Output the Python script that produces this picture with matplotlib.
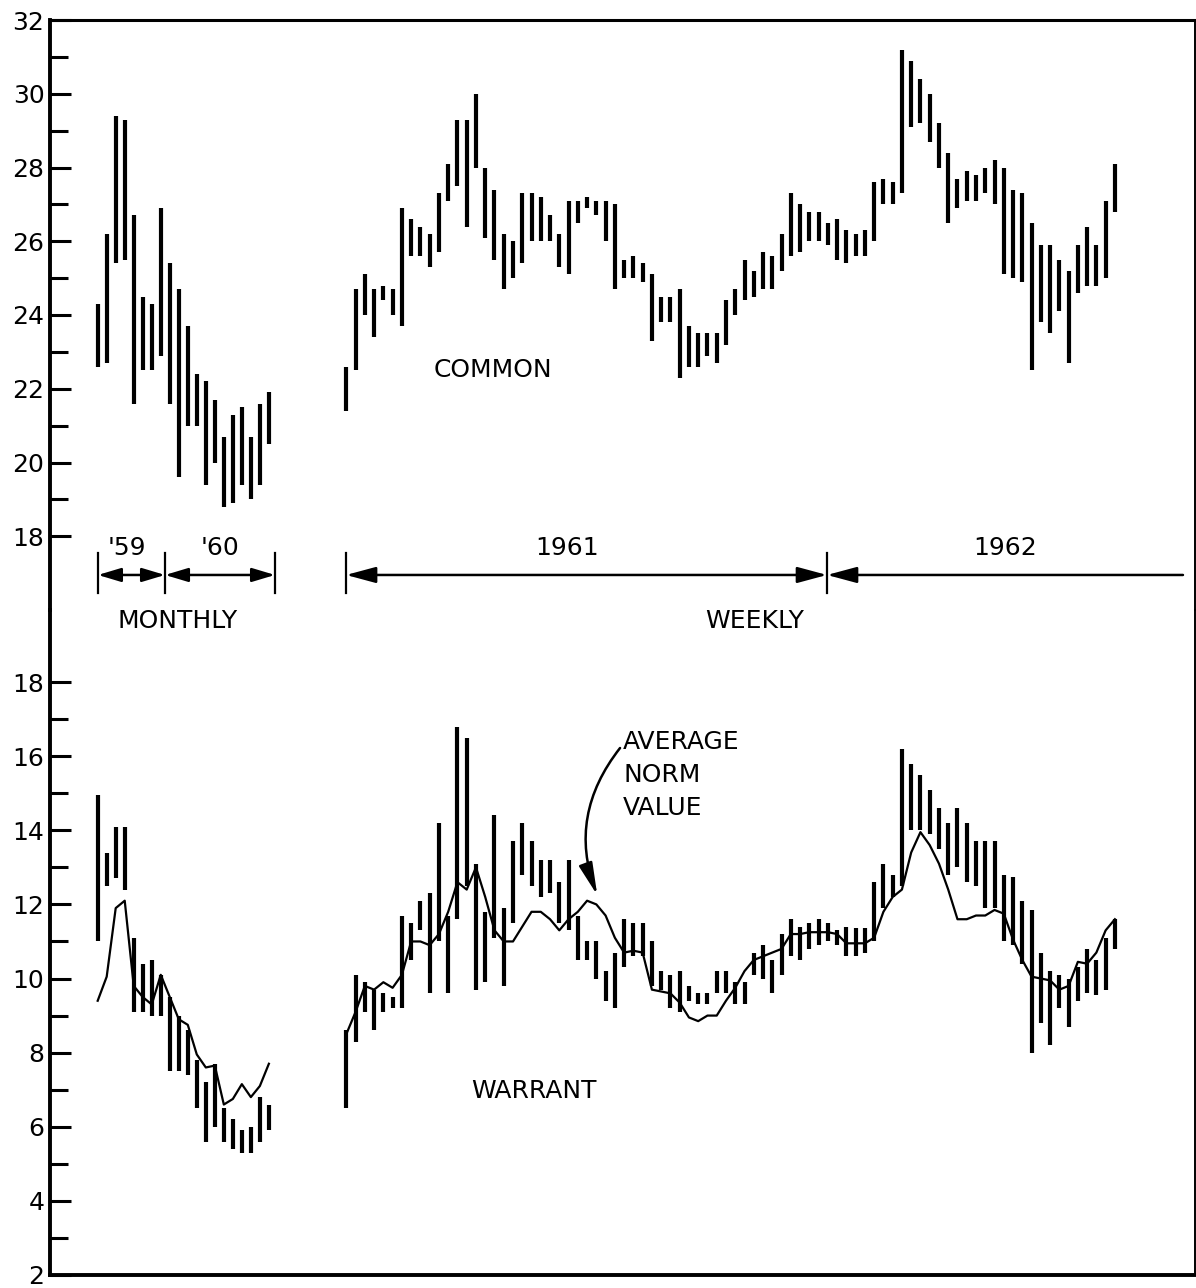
import matplotlib
matplotlib.use("Agg")
import matplotlib.pyplot as plt
import numpy as np

# ---------------- data ----------------
# Common stock, monthly price ranges (1959-1960)
common_monthly_low = [22.6, 22.7, 25.4, 25.5, 21.6, 22.5, 22.5, 22.9, 21.6, 19.6,
                      21.0, 21.0, 19.4, 20.0, 18.8, 18.9, 19.4, 19.0, 19.4, 20.5]
common_monthly_high = [24.3, 26.2, 29.4, 29.3, 26.7, 24.5, 24.3, 26.9, 25.4, 24.7,
                       23.7, 22.4, 22.2, 21.7, 20.7, 21.3, 21.5, 20.7, 21.6, 21.9]

# Common stock, weekly price ranges (1961-1962)
common_weekly_low = [21.4, 22.5, 24.0, 23.4, 24.4, 24.0, 23.7, 25.6, 25.6, 25.3,
                     25.7, 27.1, 27.5, 26.4, 28.0, 26.1, 25.5, 24.7, 25.0, 25.4,
                     26.0, 26.0, 26.0, 25.3, 25.1, 26.5, 26.9, 26.7, 26.0, 24.7,
                     25.0, 25.0, 24.9, 23.3, 23.8, 23.8, 22.3, 22.6, 22.6, 22.9,
                     22.7, 23.2, 24.0, 24.4, 24.5, 24.7, 24.7, 25.2, 25.6, 25.7,
                     26.0, 26.0, 25.9, 25.5, 25.4, 25.6, 25.6, 26.0, 27.0, 27.0,
                     27.3, 29.1, 29.2, 28.7, 28.0, 26.5, 26.9, 27.1, 27.1, 27.3,
                     27.0, 25.1, 25.0, 24.9, 22.5, 23.8, 23.5, 24.1, 22.7, 24.6,
                     24.8, 24.8, 25.0, 26.8]
common_weekly_high = [22.6, 24.7, 25.1, 24.7, 24.8, 24.7, 26.9, 26.6, 26.4, 26.2,
                      27.3, 28.1, 29.3, 29.3, 30.0, 28.0, 27.4, 26.2, 26.0, 27.3,
                      27.3, 27.2, 26.7, 26.2, 27.1, 27.1, 27.2, 27.1, 27.1, 27.0,
                      25.5, 25.6, 25.4, 25.1, 24.5, 24.5, 24.7, 23.7, 23.5, 23.5,
                      23.5, 24.4, 24.7, 25.5, 25.2, 25.7, 25.6, 26.2, 27.3, 27.0,
                      26.8, 26.8, 26.5, 26.6, 26.3, 26.2, 26.3, 27.6, 27.7, 27.6,
                      31.2, 30.9, 30.4, 30.0, 29.2, 28.4, 27.7, 27.9, 27.8, 28.0,
                      28.2, 28.0, 27.4, 27.3, 26.5, 25.9, 25.9, 25.5, 25.2, 25.9,
                      26.4, 25.9, 27.1, 28.1]

# Warrant, monthly price ranges and average norm value (1959-1960)
warrant_monthly_low = [11.0, 12.5, 12.7, 12.4, 9.1, 9.1, 9.0, 9.0, 7.5, 7.5,
                       7.4, 6.5, 5.6, 6.0, 5.6, 5.4, 5.3, 5.3, 5.6, 5.9]
warrant_monthly_high = [14.95, 13.4, 14.1, 14.1, 11.1, 10.4, 10.5, 10.1, 9.5, 9.0,
                        8.6, 7.8, 7.2, 7.7, 6.5, 6.2, 5.9, 6.0, 6.8, 6.6]
norm_monthly = [9.4, 10.05, 11.9, 12.1, 9.8, 9.5, 9.3, 10.1, 9.5, 8.9,
                8.75, 7.95, 7.6, 7.65, 6.6, 6.75, 7.15, 6.8, 7.1, 7.7]

# Warrant, weekly price ranges and average norm value (1961-1962)
warrant_weekly_low = [6.5, 8.3, 9.1, 8.6, 9.1, 9.2, 9.2, 10.5, 11.3, 9.6,
                      11.0, 9.6, 11.6, 12.5, 9.7, 9.9, 11.1, 9.8, 11.5, 12.8,
                      12.5, 12.2, 12.3, 11.5, 11.3, 10.5, 10.5, 10.0, 9.4, 9.2,
                      10.3, 10.6, 10.6, 9.8, 9.7, 9.2, 9.1, 9.4, 9.3, 9.3,
                      9.6, 9.6, 9.3, 9.3, 10.1, 10.0, 9.6, 10.1, 10.6, 10.5,
                      10.8, 10.9, 11.0, 10.9, 10.6, 10.6, 10.7, 11.0, 11.9, 12.2,
                      12.5, 14.0, 14.0, 13.9, 13.5, 12.8, 13.0, 12.6, 12.5, 11.9,
                      11.9, 11.0, 10.9, 10.4, 8.0, 8.8, 8.2, 9.2, 8.7, 9.4,
                      9.6, 9.55, 9.7, 10.8]
warrant_weekly_high = [8.6, 10.1, 9.9, 9.7, 9.6, 9.5, 11.7, 11.5, 12.1, 12.3,
                       14.2, 11.7, 16.8, 16.5, 13.1, 11.8, 14.4, 11.9, 13.7, 14.2,
                       13.7, 13.2, 13.2, 12.6, 13.2, 11.7, 11.0, 11.0, 10.2, 10.7,
                       11.6, 11.5, 11.5, 11.0, 10.2, 10.1, 10.2, 9.8, 9.6, 9.6,
                       10.2, 10.2, 9.9, 9.9, 10.7, 10.9, 10.5, 11.2, 11.6, 11.4,
                       11.5, 11.6, 11.5, 11.3, 11.4, 11.35, 11.35, 12.6, 13.1, 12.8,
                       16.2, 15.8, 15.5, 15.1, 14.6, 14.2, 14.6, 14.2, 13.7, 13.7,
                       13.7, 12.8, 12.75, 12.1, 11.85, 10.7, 10.2, 10.1, 10.0, 10.3,
                       10.8, 10.5, 11.1, 11.6]
norm_weekly = [8.5, 9.1, 9.8, 9.7, 9.9, 9.75, 10.1, 11.0, 11.0, 10.9,
               11.2, 11.8, 12.6, 12.4, 13.0, 12.2, 11.3, 11.0, 11.0, 11.4,
               11.8, 11.8, 11.6, 11.3, 11.6, 11.8, 12.1, 12.0, 11.7, 11.1,
               10.7, 10.75, 10.7, 9.7, 9.65, 9.6, 9.35, 8.95, 8.85, 9.0,
               9.0, 9.4, 9.75, 10.2, 10.5, 10.6, 10.7, 10.8, 11.2, 11.2,
               11.25, 11.25, 11.25, 11.2, 10.95, 10.95, 10.95, 11.1, 11.8, 12.2,
               12.4, 13.4, 13.95, 13.6, 13.1, 12.4, 11.6, 11.6, 11.7, 11.7,
               11.85, 11.75, 11.05, 10.5, 10.05, 10.0, 9.95, 9.7, 9.8, 10.45,
               10.4, 10.7, 11.3, 11.6]

common_ticks = [18, 20, 22, 24, 26, 28, 30, 32]
warrant_ticks = [2, 4, 6, 8, 10, 12, 14, 16, 18]

# ---------------- layout ----------------
FONT = "DejaVu Sans"
plt.rcParams["font.family"] = [FONT]

W, H = 1196, 1288
fig = plt.figure(figsize=(W / 100, H / 100), dpi=100)

left_px, right_px = 50, 1195
top_px, split_px, bottom_px = 20, 610, 1275
ax_w = (right_px - left_px) / W

ax_c = fig.add_axes([left_px / W, (H - split_px) / H, ax_w, (split_px - top_px) / H])
ax_w_ = fig.add_axes([left_px / W, (H - bottom_px) / H, ax_w, (bottom_px - split_px) / H])

# x axis measured in weeks; monthly bars sit slightly closer together
XMAX = 123.65
W0 = 32.0          # first weekly bar
M0, MSTEP = 5.15, 0.973

xm = M0 + MSTEP * np.arange(len(common_monthly_low))
xw = W0 + np.arange(len(common_weekly_low))

BAR_LW = 3.0
for ax in (ax_c, ax_w_):
    ax.set_xlim(0, XMAX)
    ax.set_facecolor("none")
    ax.set_xticks([])

ax_c.set_ylim(16.0, 32.0)
ax_w_.set_ylim(2.0, 2.0 + (bottom_px - split_px) / 37.06)

# common stock
ax_c.vlines(xm, common_monthly_low, common_monthly_high, colors="black", lw=BAR_LW)
ax_c.vlines(xw, common_weekly_low, common_weekly_high, colors="black", lw=BAR_LW)

# warrant with average norm value
ax_w_.vlines(xm, warrant_monthly_low, warrant_monthly_high, colors="black", lw=BAR_LW)
ax_w_.vlines(xw, warrant_weekly_low, warrant_weekly_high, colors="black", lw=BAR_LW)
ax_w_.plot(xm, norm_monthly, color="black", lw=1.6)
ax_w_.plot(xw, norm_weekly, color="black", lw=1.6)

# frame
for ax, hidden in ((ax_c, "bottom"), (ax_w_, "top")):
    ax.spines[hidden].set_visible(False)
    ax.spines["left"].set_linewidth(2.8)
    ax.spines["right"].set_linewidth(1.4)
ax_c.spines["top"].set_linewidth(2.2)
ax_w_.spines["bottom"].set_linewidth(2.8)

ax_c.set_yticks(common_ticks)
ax_c.set_yticks(np.arange(19, 32, 2), minor=True)
ax_w_.set_yticks(warrant_ticks)
ax_w_.set_yticks(np.arange(3, 19, 2), minor=True)
for ax in (ax_c, ax_w_):
    ax.tick_params(axis="y", which="major", direction="in", length=15, width=2.2,
                   labelsize=18, pad=4)
    ax.tick_params(axis="y", which="minor", direction="in", length=13, width=2.2)
    ax.tick_params(axis="y", which="both", right=False)

# ---------------- labels and period markers ----------------
TXT = dict(color="black", fontsize=18, family=FONT)
ax_c.text(47.8, 22.5, "COMMON", ha="center", va="center", **TXT)
ax_w_.text(52.3, 6.96, "WARRANT", ha="center", va="center", **TXT)

y_line, y_top, y_bot = 16.95, 17.55, 16.46
y_year, y_freq = 17.68, 15.70

def tick_bar(x):
    ax_c.plot([x, x], [y_bot, y_top], color="black", lw=1.6, clip_on=False)

def span(x0, x1, style):
    ax_c.annotate("", xy=(x1, y_line), xytext=(x0, y_line),
                  arrowprops=dict(arrowstyle=style, color="black", lw=1.8,
                                  shrinkA=0, shrinkB=0, mutation_scale=14),
                  annotation_clip=False)

# monthly section
for x in (5.18, 12.42, 24.30):
    tick_bar(x)
span(5.18, 12.42, "<|-|>,head_width=0.3,head_length=1.0")
span(12.42, 24.30, "<|-|>,head_width=0.3,head_length=1.0")
ax_c.text(8.32, y_year, "'59", ha="center", va="center", **TXT)
ax_c.text(18.36, y_year, "'60", ha="center", va="center", **TXT)
ax_c.text(13.82, y_freq, "MONTHLY", ha="center", va="center", **TXT)

# weekly section
for x in (31.97, 83.91):
    tick_bar(x)
span(31.97, 83.91, "<|-|>,head_width=0.35,head_length=1.3")
span(83.91, 122.35, "<|-,head_width=0.35,head_length=1.3")
ax_c.text(55.83, y_year, "1961", ha="center", va="center", **TXT)
ax_c.text(103.13, y_year, "1962", ha="center", va="center", **TXT)
ax_c.text(76.13, y_freq, "WEEKLY", ha="center", va="center", **TXT)

# average norm value callout
for y, s in ((16.38, "AVERAGE"), (15.49, "NORM"), (14.60, "VALUE")):
    ax_w_.text(61.9, y, s, ha="left", va="center", **TXT)
k_peak = 27
ax_w_.annotate("", xy=(xw[k_peak] + 0.1, norm_weekly[k_peak] + 0.25),
               xytext=(61.56, 16.22),
               arrowprops=dict(arrowstyle="-|>,head_width=0.3,head_length=1.4",
                               color="black", lw=1.8, mutation_scale=14,
                               shrinkA=0, shrinkB=0,
                               connectionstyle="arc3,rad=0.28"))

fig.savefig("out.png", dpi=100, facecolor="white")
